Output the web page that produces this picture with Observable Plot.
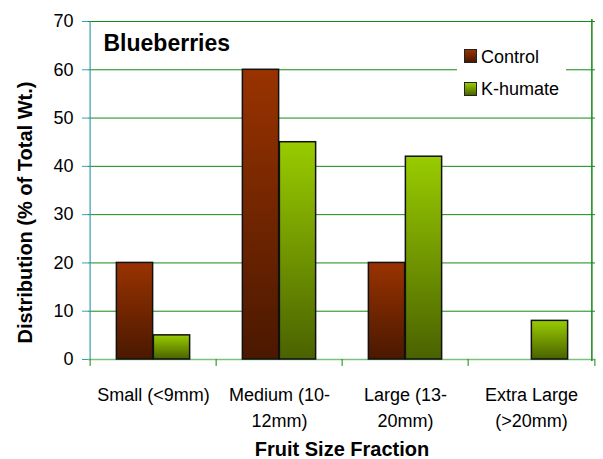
<!DOCTYPE html>
<html>
<head>
<meta charset="utf-8">
<script src="https://cdn.jsdelivr.net/npm/d3@7"></script>
<script src="https://cdn.jsdelivr.net/npm/@observablehq/plot@0.6"></script>
<style>
  body { margin: 0; background: #fff; }
  #wrap { position: relative; width: 603px; height: 459px; font-family: "Liberation Sans", Arial, sans-serif; color: #000; }
  .legend { position: absolute; left: 457px; top: 40px; width: 109px; height: 64px; background: #fff; }
  .item { position: absolute; left: 0; font-size: 18px; line-height: 18px; white-space: nowrap; }
  .sw { position: absolute; left: 7px; width: 11px; height: 12px; border: 1px solid #222; }
  .lab { position: absolute; left: 24px; }
</style>
</head>
<body>
<div id="wrap"></div>
<script>
const categories = ["Small (<9mm)", "Medium (10-\n12mm)", "Large (13-\n20mm)", "Extra Large\n(>20mm)"];
const seriesNames = ["Control", "K-humate"];
const control = [20, 60, 20, 0];
const khumate = [5, 45, 42, 8];
const yTicks = [0, 10, 20, 30, 40, 50, 60, 70];
const chartTitle = "Blueberries";
const xTitle = "Fruit Size Fraction";
const yTitle = "Distribution (% of Total Wt.)";

const colors = {
  "Control": ["#993300", "#4a1800"],
  "K-humate": ["#99cc00", "#4a6200"]
};

const W = 603, H = 459;
const mL = 88, mR = 8, mT = 21, mB = 100;
const bw = (W - mL - mR) / categories.length;
const barW = 37;
const teal = "#3a9fae";
const green = "#138a13";

const controlRows = categories.map((c, i) => ({category: c, value: control[i]})).filter(d => d.value > 0);
const khumateRows = categories.map((c, i) => ({category: c, value: khumate[i]})).filter(d => d.value > 0);

const defs = () => {
  const g = document.createElementNS("http://www.w3.org/2000/svg", "defs");
  g.innerHTML = seriesNames.map((s, i) => `
    <linearGradient id="grad${i}" x1="0" y1="0" x2="0" y2="1">
      <stop offset="0" stop-color="${colors[s][0]}"/>
      <stop offset="1" stop-color="${colors[s][1]}"/>
    </linearGradient>`).join("");
  return g;
};

const chart = Plot.plot({
  width: W, height: H,
  marginLeft: mL, marginRight: mR, marginTop: mT, marginBottom: mB,
  style: {fontFamily: "'Liberation Sans', Arial, sans-serif", fontSize: "18px", color: "#000", background: "#fff", overflow: "visible"},
  x: {type: "band", domain: categories, padding: 0, axis: null},
  y: {domain: [0, 70], axis: null},
  marks: [
    defs,
    Plot.gridY(yTicks, {stroke: green, strokeOpacity: 1, strokeWidth: 1}),
    Plot.ruleY([0], {stroke: "#7cc27c", strokeWidth: 1.5}),
    Plot.ruleX([categories[0]], {dx: -bw / 2, stroke: teal, strokeWidth: 1.2}),
    Plot.ruleX([categories[categories.length - 1]], {dx: bw / 2 - 3, stroke: green, strokeWidth: 1.5, insetTop: -2, insetBottom: -2}),
    Plot.ruleX(categories, {dx: -bw / 2, y1: 0, y2: 0, insetBottom: -7, stroke: green}),
    Plot.ruleX([categories[categories.length - 1]], {dx: bw / 2, y1: 0, y2: 0, insetBottom: -7, stroke: green}),
    Plot.barY(controlRows, {x: "category", y: "value", fill: "url(#grad0)", stroke: "#111", strokeWidth: 1.5,
      insetLeft: bw / 2 - barW, insetRight: bw / 2}),
    Plot.barY(khumateRows, {x: "category", y: "value", fill: "url(#grad1)", stroke: "#111", strokeWidth: 1.5,
      insetLeft: bw / 2, insetRight: bw / 2 - barW}),
    Plot.axisY({ticks: yTicks, tickSize: 6, tickPadding: 9, stroke: teal, fill: "#000", fontSize: 18, label: null, tickFormat: d => d}),
    Plot.axisX({tickSize: 0, tickPadding: 23, lineHeight: 1.45, fill: "#000", fontSize: 18, label: null}),
    Plot.text([yTitle], {text: d => d, frameAnchor: "left", textAnchor: "middle", lineAnchor: "middle", rotate: -90, dx: -63, dy: 22, fontWeight: "bold", fontSize: 20, fill: "#000"}),
    Plot.text([xTitle], {text: d => d, frameAnchor: "bottom", lineAnchor: "bottom", dy: 96, fontWeight: "bold", fontSize: 20, fill: "#000"}),
    Plot.text([chartTitle], {text: d => d, frameAnchor: "top-left", textAnchor: "start", lineAnchor: "bottom", dx: 15, dy: 29, fontWeight: "bold", fontSize: 23, fill: "#000"})
  ]
});

const wrap = document.getElementById("wrap");
wrap.appendChild(chart);

const legend = document.createElement("div");
legend.className = "legend";
seriesNames.forEach((s, i) => {
  const item = document.createElement("div");
  item.className = "item";
  item.style.top = (i === 0 ? 9 : 42) + "px";
  item.innerHTML = `<div class="sw" style="background:linear-gradient(${colors[s][0]}, ${colors[s][1]})"></div><div class="lab" style="top:${i === 0 ? -1 : -2}px">${s}</div>`;
  legend.appendChild(item);
});
wrap.appendChild(legend);
</script>
</body>
</html>
